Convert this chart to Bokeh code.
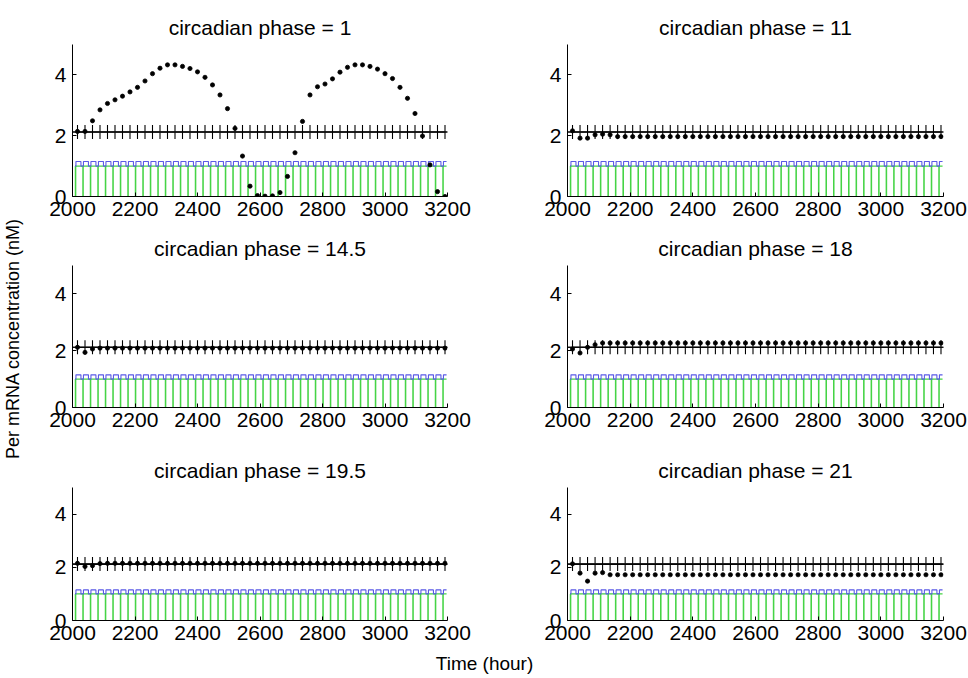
import math

from bokeh.embed import file_html
from bokeh.layouts import column, row
from bokeh.models import FixedTicker, Label, Range1d
from bokeh.plotting import figure
from bokeh.resources import INLINE

FONT = "Liberation Sans"

# ---- data -------------------------------------------------------------
phase_labels = ["1", "11", "14.5", "18", "19.5", "21"]

# one sample per day, taken at the same circadian phase
sample_times = [2016 + 24 * k for k in range(50)]

# reference (unperturbed) Per mRNA level at the sampled phase
reference_level = 2.12

per_phase_1 = [2.14, 2.14, 2.49, 2.85, 3.06, 3.18, 3.30, 3.44, 3.59, 3.80,
               4.04, 4.22, 4.33, 4.33, 4.28, 4.21, 4.10, 3.92, 3.67, 3.34,
               2.89, 2.24, 1.33, 0.34, 0.03, 0.01, 0.02, 0.13, 0.66, 1.44,
               2.47, 3.34, 3.61, 3.70, 3.87, 4.09, 4.25, 4.33, 4.33, 4.28,
               4.19, 4.04, 3.88, 3.59, 3.23, 2.73, 1.99, 1.04, 0.16, 0.00]
per_phase_11 = [2.16, 1.92, 1.92, 2.03, 2.05, 2.03, 1.97, 1.97, 1.97, 1.97,
                1.97, 1.97, 1.97, 1.97, 1.97, 1.97, 1.97, 1.97, 1.97, 1.97,
                1.97, 1.97, 1.97, 1.97, 1.97, 1.97, 1.97, 1.97, 1.97, 1.97,
                1.97, 1.97, 1.97, 1.97, 1.97, 1.97, 1.97, 1.97, 1.97, 1.97,
                1.97, 1.97, 1.97, 1.97, 1.97, 1.97, 1.97, 1.97, 1.97, 1.97]
per_phase_14_5 = [2.12, 1.94, 2.06, 2.09, 2.09, 2.09, 2.09, 2.09, 2.09, 2.09,
                  2.09, 2.09, 2.09, 2.09, 2.09, 2.09, 2.09, 2.09, 2.09, 2.09,
                  2.09, 2.09, 2.09, 2.09, 2.09, 2.09, 2.09, 2.09, 2.09, 2.09,
                  2.09, 2.09, 2.09, 2.09, 2.09, 2.09, 2.09, 2.09, 2.09, 2.09,
                  2.09, 2.09, 2.09, 2.09, 2.09, 2.09, 2.09, 2.09, 2.09, 2.09]
per_phase_18 = [2.06, 1.92, 2.12, 2.21, 2.27, 2.27, 2.27, 2.27, 2.27, 2.27,
                2.27, 2.27, 2.27, 2.27, 2.27, 2.27, 2.27, 2.27, 2.27, 2.27,
                2.27, 2.27, 2.27, 2.27, 2.27, 2.27, 2.27, 2.27, 2.27, 2.27,
                2.27, 2.27, 2.27, 2.27, 2.27, 2.27, 2.27, 2.27, 2.27, 2.27,
                2.27, 2.27, 2.27, 2.27, 2.27, 2.27, 2.27, 2.27, 2.27, 2.27]
per_phase_19_5 = [2.15, 2.03, 2.06, 2.14, 2.15, 2.15, 2.15, 2.15, 2.15, 2.15,
                  2.15, 2.15, 2.15, 2.15, 2.15, 2.15, 2.15, 2.15, 2.15, 2.15,
                  2.15, 2.15, 2.15, 2.15, 2.15, 2.15, 2.15, 2.15, 2.15, 2.15,
                  2.15, 2.15, 2.15, 2.15, 2.15, 2.15, 2.15, 2.15, 2.15, 2.15,
                  2.15, 2.15, 2.15, 2.15, 2.15, 2.15, 2.15, 2.15, 2.15, 2.15]
per_phase_21 = [2.13, 1.78, 1.48, 1.78, 1.80, 1.72, 1.72, 1.72, 1.72, 1.72,
                1.72, 1.72, 1.72, 1.72, 1.72, 1.72, 1.72, 1.72, 1.72, 1.72,
                1.72, 1.72, 1.72, 1.72, 1.72, 1.72, 1.72, 1.72, 1.72, 1.72,
                1.72, 1.72, 1.72, 1.72, 1.72, 1.72, 1.72, 1.72, 1.72, 1.72,
                1.72, 1.72, 1.72, 1.72, 1.72, 1.72, 1.72, 1.72, 1.72, 1.72]

per_series = [per_phase_1, per_phase_11, per_phase_14_5,
              per_phase_18, per_phase_19_5, per_phase_21]

x_ticks = [2000, 2200, 2400, 2600, 2800, 3000, 3200]
y_ticks = [0, 2, 4]

# daily forcing protocols (hours within each 24 h day)
day_starts = [2000 + 24 * k for k in range(50)]
light_off, light_on = 9.0, 10.5          # short dark gap in the light signal (0..1)
pulse_rise, pulse_fall = 11.0, 27.0      # daily pulse of the second signal
pulse_low, pulse_high = 1.0, 1.15
signal_end = 3197


def light_signal():
    xs, ys = [2008], [1.0]
    for d in day_starts:
        xs += [d + light_off, d + light_off, d + light_on, d + light_on]
        ys += [1.0, 0.0, 0.0, 1.0]
    xs.append(signal_end)
    ys.append(1.0)
    return xs, ys


def pulse_signal():
    xs, ys = [2008], [pulse_low]
    for d in day_starts:
        fall = min(d + pulse_fall, signal_end)
        xs += [d + pulse_rise, d + pulse_rise, fall]
        ys += [pulse_low, pulse_high, pulse_high]
        if fall < signal_end:
            xs.append(fall)
            ys.append(pulse_low)
    return xs, ys


def panel(title, values, width, height, left, right, top, bottom):
    p = figure(width=width, height=height,
               x_range=Range1d(2000, 3200), y_range=Range1d(0, 5),
               output_backend="svg", toolbar_location=None,
               min_border_left=left, min_border_right=right,
               min_border_top=top, min_border_bottom=bottom,
               title=title)
    p.outline_line_color = None
    p.grid.visible = False
    p.background_fill_color = "white"
    p.border_fill_color = "white"

    p.title.text_font = FONT
    p.title.text_font_size = "21px"
    p.title.text_font_style = "normal"
    p.title.text_color = "black"
    p.title.align = "center"
    p.title.standoff = 12

    for ax in (p.xaxis[0], p.yaxis[0]):
        ax.major_label_text_font = FONT
        ax.major_label_text_font_size = "21px"
        ax.major_label_text_color = "black"
        ax.axis_line_color = "black"
        ax.major_tick_line_color = "black"
        ax.major_tick_in = 4
        ax.major_tick_out = 0
        ax.minor_tick_in = 0
        ax.minor_tick_out = 0
    p.xaxis.ticker = FixedTicker(ticks=x_ticks)
    p.yaxis.ticker = FixedTicker(ticks=y_ticks)
    p.xaxis.major_label_standoff = 5
    p.yaxis.major_label_standoff = 6

    gx, gy = light_signal()
    p.line(gx, gy, line_color="#45d445", line_width=1.1)
    bx, by = pulse_signal()
    p.line(bx, by, line_color="#5a5ae6", line_width=1.1)

    p.line([2000, 3200], [reference_level, reference_level],
           line_color="black", line_width=1.1)
    p.scatter(sample_times, [reference_level for _ in sample_times],
              marker="cross", size=14, line_color="black", line_width=1.1)
    p.scatter(sample_times, values, marker="circle", size=4.2,
              fill_color="black", line_color="black", line_width=0.8)
    return p


STRIP_W = 28
LEFT_W, RIGHT_W = 456, 484
rows_spec = [  # (height, top border, bottom border)
    (226, 44, 30),
    (224, 39, 43),
    (202, 35, 32),
]

panels = []
for r, (h, top, bottom) in enumerate(rows_spec):
    i, j = 2 * r, 2 * r + 1
    pl = panel("circadian phase = " + phase_labels[i], per_series[i],
               LEFT_W, h, 44, 37, top, bottom)
    pr = panel("circadian phase = " + phase_labels[j], per_series[j],
               RIGHT_W, h, 83, 25, top, bottom)
    panels.append(row(pl, pr, spacing=0))

grid_h = sum(s[0] for s in rows_spec)
strip_h = 678 - grid_h


def blank(width, height):
    f = figure(width=width, height=height, x_range=Range1d(0, 1),
               y_range=Range1d(0, 1), output_backend="svg",
               toolbar_location=None, x_axis_location=None,
               y_axis_location=None, min_border=0)
    f.outline_line_color = None
    f.grid.visible = False
    f.background_fill_color = "white"
    f.border_fill_color = "white"
    return f


ylab_fig = blank(STRIP_W, grid_h)
ylab_fig.add_layout(Label(x=12, y=grid_h - 338, x_units="screen", y_units="screen",
                          text="Per mRNA concentration (nM)", angle=math.pi / 2,
                          text_align="center", text_baseline="middle",
                          text_font=FONT, text_font_size="18px",
                          text_color="black"))

xlab_fig = blank(968, strip_h)
xlab_fig.add_layout(Label(x=484, y=strip_h - 11, x_units="screen",
                          y_units="screen", text="Time (hour)",
                          text_align="center", text_baseline="middle",
                          text_font=FONT, text_font_size="19px",
                          text_color="black"))

layout = column(row(ylab_fig, column(*panels, spacing=0), spacing=0),
                xlab_fig, spacing=0)

open("out.html", "w").write(file_html(layout, INLINE))
